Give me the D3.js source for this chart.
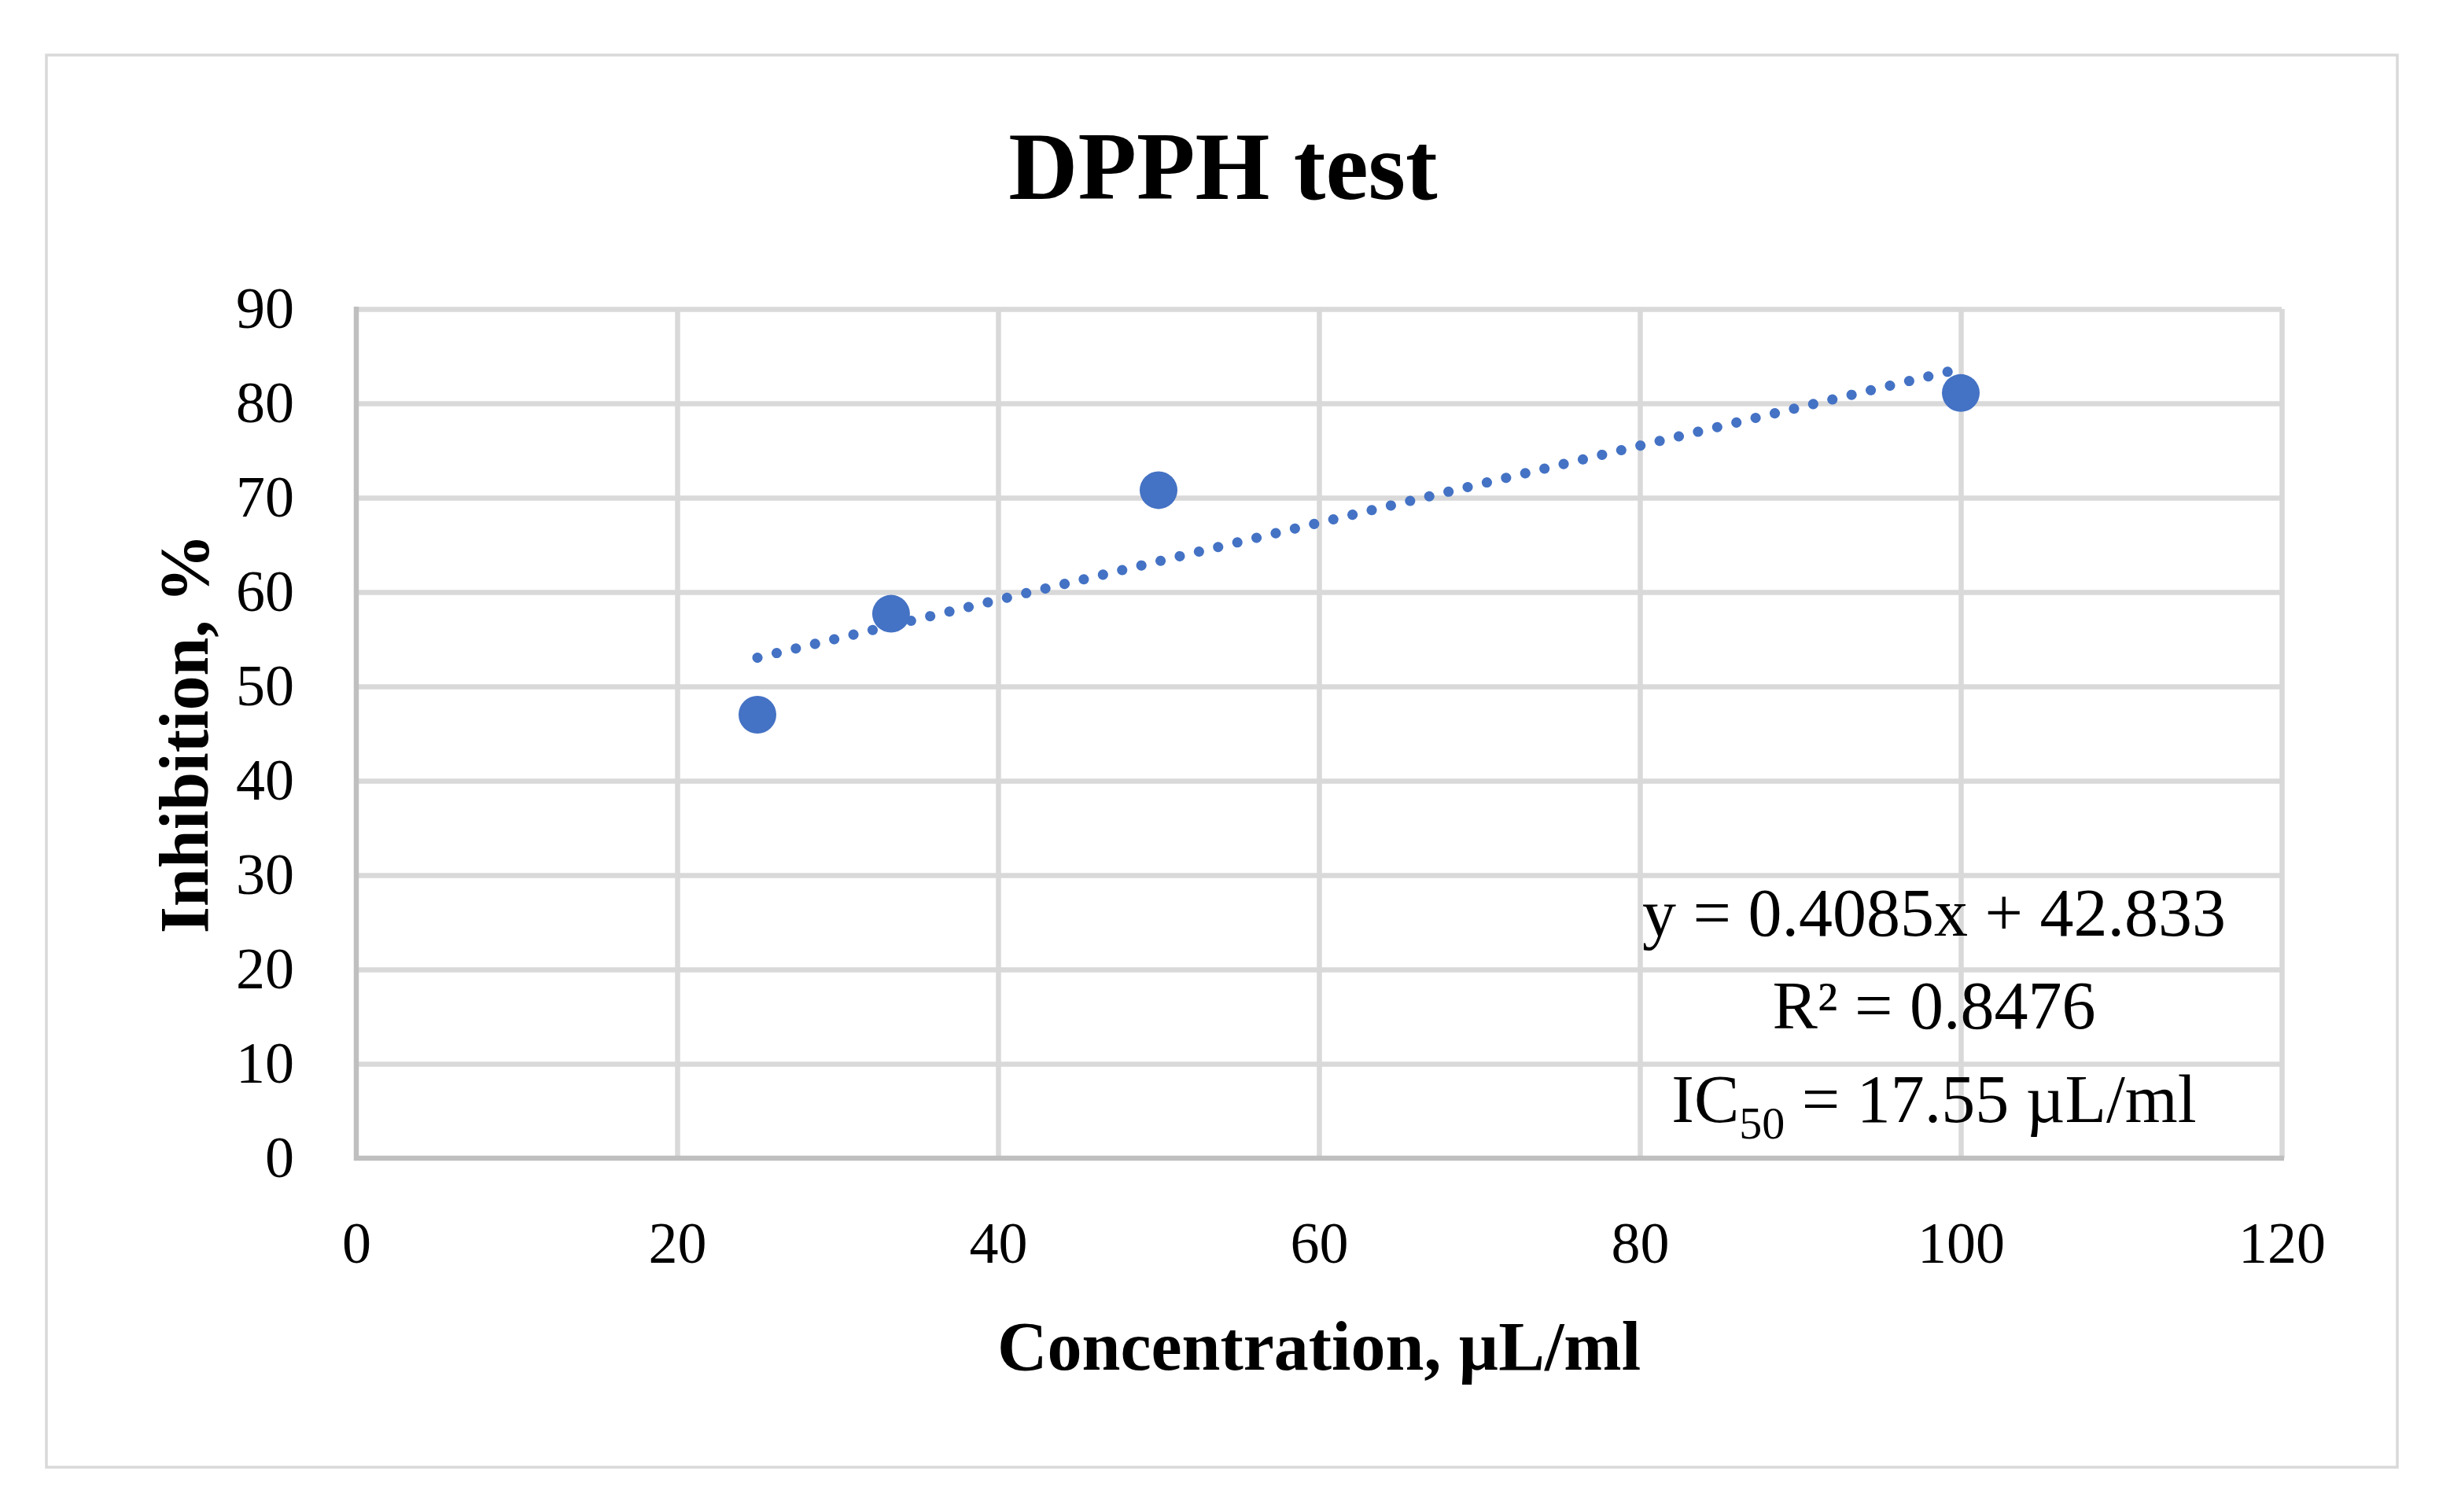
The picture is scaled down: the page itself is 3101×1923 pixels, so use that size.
<!DOCTYPE html>
<html>
<head>
<meta charset="utf-8">
<script src="https://cdn.jsdelivr.net/npm/d3@7"></script>
<style>
  html, body { margin: 0; padding: 0; background: #ffffff; }
  svg { display: block; }
  text { font-family: "Liberation Serif", "Times New Roman", serif; fill: #000; }
</style>
</head>
<body>
<svg id="chart" width="3101" height="1923"></svg>
<script>
// ---- data ----
const concentrations = [25, 33.33, 50, 100];
const inhibition = [47.0, 57.7, 70.8, 81.1];
const xTicks = [0, 20, 40, 60, 80, 100, 120];
const yTicks = [0, 10, 20, 30, 40, 50, 60, 70, 80, 90];
const trendSlope = 0.4085;
const trendIntercept = 42.833;
const trendRange = [25, 100];
const titleText = "DPPH test";
const xTitle = "Concentration, µL/ml";
const yTitle = "Inhibition, %";
const eqLine1 = "y = 0.4085x + 42.833";
const eqLine2 = "R² = 0.8476";
const eqLine3Main = "IC";
const eqLine3Sub = "50";
const eqLine3Rest = " = 17.55 µL/ml";

// ---- layout ----
const W = 3101, H = 1923;
const plot = { left: 453, right: 2901, top: 393, bottom: 1473 };
const blue = "#4472c4";

const svg = d3.select("#chart");

// outer chart border
svg.append("rect")
  .attr("x", 59).attr("y", 70)
  .attr("width", 3048 - 59).attr("height", 1866 - 70)
  .attr("fill", "#fff").attr("stroke", "#d9d9d9").attr("stroke-width", 3.5);

const x = d3.scaleLinear().domain([0, 120]).range([plot.left, plot.right]);
const y = d3.scaleLinear().domain([0, 90]).range([plot.bottom, plot.top]);

// gridlines via axes
const gx = svg.append("g")
  .attr("transform", `translate(0,${plot.bottom})`)
  .call(d3.axisBottom(x).tickValues(xTicks.filter(d => d > 0)).tickSize(-(plot.bottom - plot.top)).tickFormat(""));
gx.select(".domain").remove();
gx.selectAll("line").attr("stroke", "#d9d9d9").attr("stroke-width", 6.5);

const gy = svg.append("g")
  .attr("transform", `translate(${plot.left},0)`)
  .call(d3.axisLeft(y).tickValues(yTicks.filter(d => d > 0)).tickSize(-(plot.right - plot.left)).tickFormat(""));
gy.select(".domain").remove();
gy.selectAll("line").attr("stroke", "#d9d9d9").attr("stroke-width", 6.5);

// axis lines
svg.append("line")
  .attr("x1", x(0)).attr("x2", x(0)).attr("y1", y(90) - 3).attr("y2", y(0) + 3)
  .attr("stroke", "#bfbfbf").attr("stroke-width", 6.5);
svg.append("line")
  .attr("x1", x(0) - 3).attr("x2", x(120) + 3).attr("y1", y(0)).attr("y2", y(0))
  .attr("stroke", "#bfbfbf").attr("stroke-width", 6.5);

// tick labels through axes
const xAxis = svg.append("g")
  .attr("transform", `translate(0,${plot.bottom})`)
  .call(d3.axisBottom(x).tickValues(xTicks).tickSize(0).tickPadding(80).tickFormat(d3.format("d")));
xAxis.select(".domain").remove();
xAxis.selectAll("text")
  .attr("font-family", "Liberation Serif").attr("font-size", 74).attr("fill", "#000");

const yAxis = svg.append("g")
  .attr("transform", `translate(${plot.left},0)`)
  .call(d3.axisLeft(y).tickValues(yTicks).tickSize(0).tickPadding(79).tickFormat(d3.format("d")));
yAxis.select(".domain").remove();
yAxis.selectAll("text")
  .attr("font-family", "Liberation Serif").attr("font-size", 74).attr("fill", "#000");

// trendline (dotted)
const trendData = trendRange.map(v => [v, trendIntercept + trendSlope * v]);
svg.append("path")
  .datum(trendData)
  .attr("d", d3.line().x(d => x(d[0])).y(d => y(d[1])))
  .attr("fill", "none")
  .attr("stroke", blue)
  .attr("stroke-width", 13)
  .attr("stroke-linecap", "round")
  .attr("stroke-dasharray", "0.1 25");

// points
svg.append("g").selectAll("circle")
  .data(concentrations.map((c, i) => [c, inhibition[i]]))
  .join("circle")
  .attr("cx", d => x(d[0]))
  .attr("cy", d => y(d[1]))
  .attr("r", 24)
  .attr("fill", blue);

// title
svg.append("text")
  .attr("x", 1555).attr("y", 253)
  .attr("text-anchor", "middle")
  .attr("font-size", 122).attr("font-weight", "bold")
  .text(titleText);

// axis titles
svg.append("text")
  .attr("x", (plot.left + plot.right) / 2).attr("y", 1742)
  .attr("text-anchor", "middle")
  .attr("font-size", 88).attr("font-weight", "bold")
  .text(xTitle);

svg.append("text")
  .attr("transform", `translate(264,${(plot.top + plot.bottom) / 2}) rotate(-90)`)
  .attr("text-anchor", "middle")
  .attr("font-size", 88).attr("font-weight", "bold")
  .text(yTitle);

// equation label
const eqX = 2459;
const eq = svg.append("g").attr("font-size", 86);
eq.append("text").attr("x", eqX).attr("y", 1190).attr("text-anchor", "middle").text(eqLine1);
eq.append("text").attr("x", eqX).attr("y", 1308).attr("text-anchor", "middle").text(eqLine2);
const t3 = eq.append("text").attr("x", eqX).attr("y", 1427).attr("text-anchor", "middle");
t3.append("tspan").text(eqLine3Main);
t3.append("tspan").attr("font-size", 58).attr("dy", 21).text(eqLine3Sub);
t3.append("tspan").attr("dy", -21).text(eqLine3Rest);
</script>
</body>
</html>
